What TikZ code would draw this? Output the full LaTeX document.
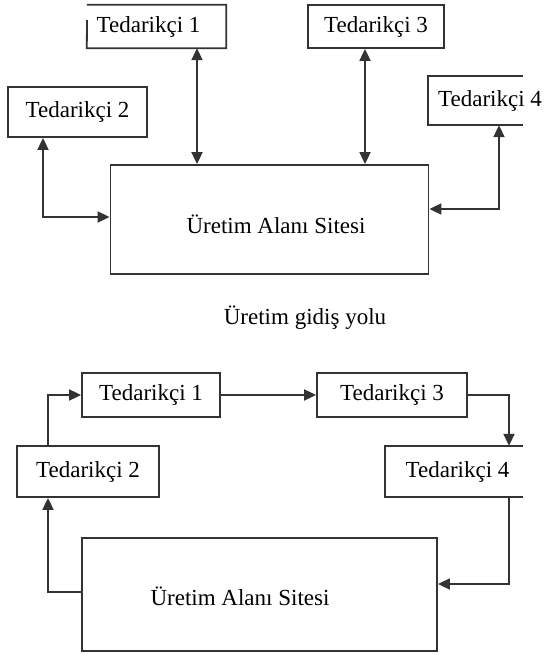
\documentclass[tikz,border=0pt]{standalone}
\usepackage{fontspec}
\setmainfont{Liberation Serif}
\usetikzlibrary{arrows.meta}
\definecolor{linec}{HTML}{333333}
\begin{document}
\begin{tikzpicture}[x=1pt,y=-1pt,
  every node/.style={font=\fontsize{23}{27}\selectfont, inner sep=0pt, text=black},
  boxline/.style={draw=linec, line width=1.8pt},
  conn/.style={draw=linec, line width=1.8pt,
    arrows={-Triangle[length=12pt,width=11pt]}},
  conn2/.style={conn, arrows={Triangle[length=12pt,width=11pt]-Triangle[length=12pt,width=11pt]}},
  plain/.style={draw=linec, line width=1.8pt}]
\useasboundingbox (0,0) rectangle (545,655);

% ---------- hub layout ----------
\node[minimum width=139pt, minimum height=43pt] (a1) at (156.5,26.5) {};
\node (a1t) at (148.5,27) {Tedarikçi 1};
\coordinate (a1g) at (87,20);
\draw[plain] (a1g) -- (a1.south west) -- (a1.south east) -- (a1.north east) -- (a1.north west);

\node[boxline, minimum width=136pt, minimum height=43pt] (a3) at (376,26.5) {Tedarikçi 3};
\node[boxline, minimum width=139pt, minimum height=50pt] (a2) at (77.5,112) {Tedarikçi 2};

\node[minimum width=95pt, minimum height=49pt] (a4) at (475.5,100.5) {};
\draw[plain] (a4.north east) -- (a4.north west) -- (a4.south west) -- (a4.south east);
\node (a4t) at (490,101) {Tedarikçi 4};

\node[boxline, minimum width=318pt, minimum height=109pt] (m1) at (269.5,219.5) {};
\node (m1t) at (276,224) {Üretim Alanı Sitesi};

\coordinate (c1) at (197,0);
\coordinate (c3) at (365,0);
\coordinate (c2) at (43,0);
\coordinate (c4) at (499,0);
\coordinate (r2) at (0,217);
\coordinate (r4) at (0,209);

\draw[conn2] (c1 |- a1.south) -- (c1 |- m1.north);
\draw[conn2] (c3 |- a3.south) -- (c3 |- m1.north);
\draw[conn2] (c2 |- a2.south) |- (r2 -| m1.west);
\draw[conn2] (c4 |- a4.south) |- (r4 -| m1.east);

\node (cap) at (305,318) {Üretim gidiş yolu};

% ---------- ring layout ----------
\node[boxline, minimum width=138pt, minimum height=44pt] (b1) at (151,395) {Tedarikçi 1};
\node[boxline, minimum width=150pt, minimum height=44pt] (b3) at (392,395) {Tedarikçi 3};
\node[boxline, minimum width=142pt, minimum height=51pt] (b2) at (88,471.5) {Tedarikçi 2};

\node[minimum width=138pt, minimum height=51pt] (b4) at (454,471.5) {};
\draw[plain] (b4.north east) -- (b4.north west) -- (b4.south west) -- (b4.south east);
\node (b4t) at (457.5,472) {Tedarikçi 4};

\node[boxline, minimum width=355pt, minimum height=113pt] (m2) at (259.5,594.5) {};
\node (m2t) at (240,596) {Üretim Alanı Sitesi};

\coordinate (d1) at (48,0);
\coordinate (d4) at (509,0);
\coordinate (e4) at (0,584);
\coordinate (e2) at (0,592);

\draw[conn] (d1 |- b2.north) |- (b1.west);
\draw[conn] (b1.east) -- (b3.west);
\draw[conn] (b3.east) -| (d4 |- b4.north);
\draw[conn] (d4 |- b4.south) |- (e4 -| m2.east);
\draw[conn] (e2 -| m2.west) -| (d1 |- b2.south);
\end{tikzpicture}
\end{document}
